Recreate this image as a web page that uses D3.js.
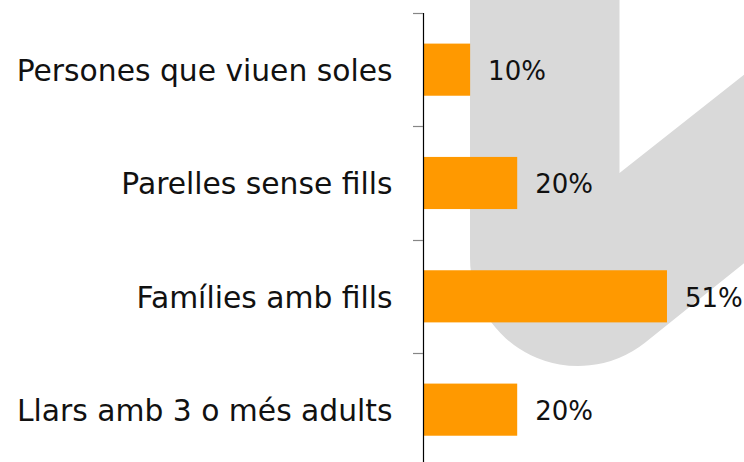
<!DOCTYPE html>
<html>
<head>
<meta charset="utf-8">
<script src="https://cdn.jsdelivr.net/npm/d3@7"></script>
<style>
  html, body { margin: 0; padding: 0; background: #fff; overflow: hidden; }
  svg { display: block; }
</style>
</head>
<body>
<svg id="chart" width="744" height="462"></svg>
<script>
// ---- data ----
const categories = ["Persones que viuen soles", "Parelles sense fills", "Famílies amb fills", "Llars amb 3 o més adults"];
const values = [9.7, 19.6, 51.1, 19.6];
const valueLabels = ["10%", "20%", "51%", "20%"];

// ---- layout ----
const W = 744, H = 462;
const axisX = 424;
const svg = d3.select("#chart");
const FONT = "'DejaVu Sans', 'Open Sans', sans-serif";

// background watermark (decorative logo shape)
(function drawWatermark() {
  const slope = 0.79;
  const xL = 470, xR = 619.5;
  const upperY = x => 173 - slope * (x - xR);
  const lowerY = x => 263 + slope * (W - x);
  const cx = 578, cy = 258, r = 108;
  const n = [slope / Math.hypot(slope, 1), 1 / Math.hypot(slope, 1)];
  const tx = cx + r * n[0], ty = cy + r * n[1];
  const xe = W + 20;
  const p = d3.path();
  p.moveTo(xL, -5);
  p.lineTo(xL, cy);
  p.arc(cx, cy, r, Math.PI, Math.atan2(ty - cy, tx - cx), true);
  p.lineTo(xe, lowerY(xe));
  p.lineTo(xe, upperY(xe));
  p.lineTo(xR, upperY(xR));
  p.lineTo(xR, -5);
  p.closePath();
  svg.append("path").attr("d", p.toString()).attr("fill", "#d9d9d9");
})();

const y = d3.scaleBand()
  .domain(categories)
  .range([13, 13 + 113.33 * 4])
  .paddingInner(0.54)
  .paddingOuter(0.27);

const x = d3.scaleLinear().domain([0, 60]).range([axisX, axisX + 60 * 4.755]);

const data = categories.map((c, i) => ({ c, v: values[i], label: valueLabels[i] }));

// bars
svg.append("g").selectAll("rect").data(data).join("rect")
  .attr("x", x(0))
  .attr("y", d => y(d.c))
  .attr("width", d => x(d.v) - x(0))
  .attr("height", y.bandwidth())
  .attr("fill", "#FF9900");

// axis line + tick marks at category boundaries
const step = y.step();
const y0 = y.range()[0];
svg.append("line")
  .attr("x1", axisX - 0.5).attr("x2", axisX - 0.5)
  .attr("y1", y0).attr("y2", H + 10)
  .attr("stroke", "#000").attr("stroke-width", 1.2);
svg.append("g").selectAll("line").data(d3.range(categories.length + 1)).join("line")
  .attr("x1", axisX - 11).attr("x2", axisX - 1)
  .attr("y1", i => Math.round(y0 + i * step) + 0.5)
  .attr("y2", i => Math.round(y0 + i * step) + 0.5)
  .attr("stroke", "#868686").attr("stroke-width", 1.2);

// category labels (fit font size to reference width)
const catText = svg.append("g").selectAll("text").data(data).join("text")
  .attr("x", 392.5)
  .attr("y", d => y(d.c) + y.bandwidth() / 2 + 11.5)
  .attr("text-anchor", "end")
  .attr("font-family", FONT)
  .attr("font-size", 28)
  .attr("fill", "#111")
  .text(d => d.c);
const w0 = catText.nodes()[0].getComputedTextLength();
catText.attr("font-size", 28 * 376 / w0);

// value labels
svg.append("g").selectAll("text").data(data).join("text")
  .attr("x", d => x(d.v) + 18)
  .attr("y", d => y(d.c) + y.bandwidth() / 2 + 10.5)
  .attr("font-family", FONT)
  .attr("font-size", 26)
  .attr("fill", "#111")
  .text(d => d.label);
</script>
</body>
</html>
